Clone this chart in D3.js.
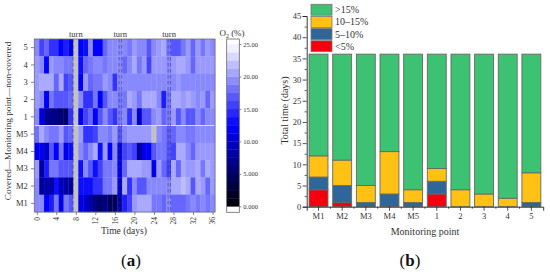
<!DOCTYPE html>
<html>
<head>
<meta charset="utf-8">
<script src="https://cdn.jsdelivr.net/npm/d3@7"></script>
<style>
  html, body { margin: 0; padding: 0; background: #fff; }
  text { font-family: "Liberation Serif", serif; fill: #333; }
</style>
</head>
<body>
<div id="chart"></div>
<script>
// ||================================||
// || DATA                           ||
// ||================================||

// panel (a): O2 per day, null = no reading (grey cell)
var rowNames = ["5", "4", "3", "2", "1", "M5", "M4", "M3", "M2", "M1"]
var row5  = [19.2,15.8,17.5,15,15,12.5,14,11.5,null,12.5,13.3,19.2,12.5,12.5,17.5,19.2,19.2,19.2,19.2,18.3,20,19.2,19.2,16.7,19.2,20,20.8,18.3,16.7,16.7,18.3,20,17.5,20,18.3,20,19.2]
var row4  = [20,19.2,12.5,20,19.2,19.2,18.3,18.3,null,13.3,17.5,18.3,19.2,19.2,18.3,19.2,19.2,19.2,17.5,19.2,20.8,18.3,20,15.8,20,20,20,19.2,20,20.8,20.8,20,17.5,20,20,20,20]
var row3  = [20,20.8,20.8,20.8,17.5,20.8,15.8,16.7,null,12.5,20,17.5,18.3,18.3,20,19.2,15,19.2,19.2,19.2,19.2,19.2,19.2,19.2,19.2,19.2,19.2,19.2,19.2,20,19.2,19.2,19.2,19.2,19.2,19.2,19.2]
var row2  = [20,19.2,12.5,18.3,16.7,16.7,16.7,17.5,null,19.2,15,15,18.3,12.5,16.7,19.2,19.2,18.3,18.3,20.8,20,18.3,20.8,20.8,20.8,19.2,14,18.3,20.8,20.8,20,20.8,20,19.2,20,17.5,20]
var row1  = [19.2,11,7.5,6.7,6.7,5.5,5.2,15,null,11.5,15.8,17.5,12.5,16.7,19.2,16.7,15,18.3,19.2,15,19.2,10,16.7,16.7,19.2,20,17.5,18.3,20,16.7,19.2,16.7,16.7,19.2,17.5,19.2,19.2]
var rowM5 = [18,20.8,19.2,18.3,18.3,20,16.7,17.5,null,20,15,15,15.8,19.2,19.2,18.3,20,16.7,19.2,20,20,20,20,20,null,19.2,18.3,17,17.5,19.2,19.2,18.3,18.3,19.2,19.2,19.2,19.2]
var rowM4 = [12.5,11.5,10,16.7,12.5,18.3,11.5,13.3,null,19.2,17.5,19.2,20.8,13.3,20,12.5,19.2,11,15.8,16.7,15.8,7.7,11.5,12.5,16.7,18.3,18.3,16.7,15.8,20.8,20.8,19.2,17.5,20,20,20,20]
var rowM3 = [20,7.8,14,18.3,18.3,16.7,16.7,16.7,null,13.3,19.2,16.7,13.3,15.8,18.3,18.3,19.2,11.5,17.5,20.8,20.8,20.8,20,20,11.5,20,17.5,15.8,20.8,17.5,20.8,20,20,20.8,18.3,20.8,20]
var rowM2 = [19.2,7.5,8.3,8.3,13.3,9.2,8.3,7.5,null,13.3,13.3,13.3,15,15,18.3,18.3,20,10,20.8,15,19.2,16.7,16.7,19.2,19.2,19.2,19.2,19.2,20.8,20.8,21.7,20.8,16.7,20.8,20,17.5,20]
var rowM1 = [19.2,19.2,12.5,14,18.3,11.5,18.3,16.7,null,11.5,10,8.3,6.3,5,6.7,4.4,4.4,8.3,14,15.8,20,20.8,20.8,20.8,18.3,18.3,17.5,19.2,17.5,17.5,17.5,18.3,19.2,18.3,19.2,18.3,19.2]
var heatRows = [row5, row4, row3, row2, row1, rowM5, rowM4, rowM3, rowM2, rowM1]

var dayTicks = d3.range(0, 37, 4)
var o2Ticks = [0, 5, 10, 15, 20, 25]
var o2TickLabels = ["0.000", "5.000", "10.00", "15.00", "20.00", "25.00"]
var turnDays = [8, 17.1, 27.1]
var dashDays = [7.45, 16.85, 17.4, 26.9, 27.4]

// panel (b): days in each O2 class
var points = ["M1", "M2", "M3", "M4", "M5", "1", "2", "3", "4", "5"]
var under5   = [4, 1, 0, 0, 0, 3, 0, 0, 0, 0]
var from5    = [3, 4, 1, 3, 1, 3, 0, 0, 0, 1]
var from10   = [5, 6, 4, 10, 3, 3, 4, 3, 2, 7]
var over15   = [24, 25, 31, 23, 32, 27, 32, 33, 34, 28]
var classNames = [">15%", "10\u201315%", "5\u201310%", "<5%"]
var classColors = ["#3dc274", "#ffc114", "#2f6699", "#f5000f"]

var svg = d3.select("#chart").append("svg")
    .attr("width", 550)
    .attr("height", 272)
    .style("display", "block")

// the source is a soft raster, cells have no hard edges
svg.append("defs").append("filter")
    .attr("id", "soft")
    .attr("x", 0).attr("y", 0).attr("width", 1).attr("height", 1)
  .append("feGaussianBlur")
    .attr("stdDeviation", 0.5)

// ||================================||
// || PANEL A: HEATMAP               ||
// ||================================||

var heatX = d3.scaleLinear().domain([-0.5, 36.5]).range([34.3, 215])
var heatY = d3.scaleBand().domain(rowNames).range([39, 212])
var o2Color = d3.scaleLinear().domain([0, 12.5, 25]).range(["#000000", "#0000ff", "#ffffff"]).clamp(true)

var a = svg.append("g")
var cells = a.append("g").attr("filter", "url(#soft)")

heatRows.forEach(function(vals, r) {
  cells.append("g").selectAll("rect")
    .data(vals)
    .enter().append("rect")
      .attr("x", function(d, i) { return heatX(i - 0.5) })
      .attr("y", heatY(rowNames[r]))
      .attr("width", heatX(1) - heatX(0) + 0.3)
      .attr("height", heatY.bandwidth() + 0.3)
      .attr("fill", function(d) { return d === null ? "#c2c2c2" : o2Color(d) })
})

// divider between covered and non-covered
a.append("line")
    .attr("x1", heatX.range()[0]).attr("x2", heatX.range()[1])
    .attr("y1", heatY("M5")).attr("y2", heatY("M5"))
    .attr("stroke", "#dcdcff").attr("stroke-width", 1)

a.selectAll(".turn-dash")
    .data(dashDays)
    .enter().append("line")
      .attr("class", "turn-dash")
      .attr("x1", function(d) { return heatX(d) })
      .attr("x2", function(d) { return heatX(d) })
      .attr("y1", 39).attr("y2", 212)
      .attr("stroke", "#33335e").attr("stroke-width", 0.8)
      .attr("stroke-opacity", 0.65)
      .attr("stroke-dasharray", "3.5,2.5")

a.selectAll(".turn")
    .data(turnDays)
    .enter().append("text")
      .attr("class", "turn")
      .attr("x", function(d) { return heatX(d) })
      .attr("y", 37)
      .attr("text-anchor", "middle")
      .attr("font-size", 8.5)
      .text("turn")

a.append("rect")
    .attr("x", 34.3).attr("y", 39).attr("width", 180.7).attr("height", 173)
    .attr("fill", "none").attr("stroke", "#6b6b80").attr("stroke-width", 0.8)

var heatAxisX = a.append("g")
    .attr("transform", "translate(0,212)")
    .call(d3.axisBottom(heatX).tickValues(dayTicks).tickSize(3).tickFormat(d3.format("d")))
heatAxisX.selectAll("text")
    .attr("transform", "rotate(-90)")
    .attr("x", -5).attr("y", 0).attr("dy", "0.32em")
    .attr("text-anchor", "end")
    .attr("font-size", 7.5)

var heatAxisY = a.append("g")
    .attr("transform", "translate(34.3,0)")
    .call(d3.axisLeft(heatY).tickSize(3.5))
heatAxisY.selectAll("text").attr("font-size", 8.5)

a.selectAll(".domain").remove()
a.selectAll(".tick line").attr("stroke", "#666").attr("stroke-width", 0.8)

a.append("text")
    .attr("transform", "translate(11,121) rotate(-90)")
    .attr("text-anchor", "middle")
    .attr("font-size", 9.2)
    .text("Covered\u2014Monitoring point\u2014non-covered")

a.append("text")
    .attr("x", 124).attr("y", 234)
    .attr("text-anchor", "middle")
    .attr("font-size", 9.5)
    .text("Time (days)")

// colour bar
var barY = d3.scaleLinear().domain([0, 25]).range([206.3, 44])
var barSteps = d3.range(0, 25.8, 1.25)

a.selectAll(".bar-step")
    .data(barSteps)
    .enter().append("rect")
      .attr("class", "bar-step")
      .attr("x", 226.7).attr("width", 12.6)
      .attr("y", function(d) { return Math.max(39, barY(d + 1.25)) })
      .attr("height", function(d) { return barY(d) - Math.max(39, barY(d + 1.25)) + 0.3 })
      .attr("fill", function(d) { return o2Color(d + 0.625) })

a.append("rect")
    .attr("x", 226.7).attr("y", 39).attr("width", 12.6).attr("height", 173.3)
    .attr("fill", "none").attr("stroke", "#666").attr("stroke-width", 0.8)

var barAxis = a.append("g")
    .attr("transform", "translate(239.3,0)")
    .call(d3.axisRight(barY).tickValues(o2Ticks).tickSize(2).tickFormat(function(d, i) { return o2TickLabels[i] }))
barAxis.select(".domain").remove()
barAxis.selectAll("text").attr("font-size", 6.5).attr("x", 4)
barAxis.selectAll(".tick line").attr("stroke", "#666").attr("stroke-width", 0.8)

var o2Title = a.append("text")
    .attr("x", 232).attr("y", 36)
    .attr("text-anchor", "middle")
    .attr("font-size", 9)
o2Title.append("tspan").text("O")
o2Title.append("tspan").attr("font-size", 6).attr("dy", 2).text("2")
o2Title.append("tspan").attr("dy", -2).text(" (%)")

// ||================================||
// || PANEL B: STACKED BARS          ||
// ||================================||

var stackX = d3.scaleBand().domain(points).range([306.7, 543.2]).paddingInner(0.2).paddingOuter(0.1)
var stackY = d3.scaleLinear().domain([0, 45]).range([206.7, 16])

var rows = points.map(function(p, i) {
  return { point: p, "<5%": under5[i], "5\u201310%": from5[i], "10\u201315%": from10[i], ">15%": over15[i] }
})
var stackKeys = classNames.slice().reverse()
var series = d3.stack().keys(stackKeys)(rows)
var classColor = d3.scaleOrdinal().domain(classNames).range(classColors)

var b = svg.append("g")

b.selectAll(".layer")
    .data(series)
    .enter().append("g")
      .attr("class", "layer")
      .attr("fill", function(d) { return classColor(d.key) })
    .selectAll("rect")
    .data(function(d) { return d.filter(function(e) { return e[1] > e[0] }) })
    .enter().append("rect")
      .attr("x", function(d) { return stackX(d.data.point) })
      .attr("y", function(d) { return stackY(d[1]) })
      .attr("width", stackX.bandwidth())
      .attr("height", function(d) { return stackY(d[0]) - stackY(d[1]) })
      .attr("stroke", "#666a60")
      .attr("stroke-width", 0.9)

var stackAxisY = b.append("g")
    .attr("transform", "translate(306.7,0)")
    .call(d3.axisLeft(stackY).tickValues(d3.range(0, 46, 5)).tickSize(4))
stackAxisY.selectAll("text").attr("font-size", 8.5).attr("x", -5.5)

var minorY = b.append("g")
    .attr("transform", "translate(306.7,0)")
    .call(d3.axisLeft(stackY).tickValues(d3.range(2.5, 45, 5)).tickSize(2).tickFormat(""))
minorY.select(".domain").remove()

var stackAxisX = b.append("g")
    .attr("transform", "translate(0,206.7)")
    .call(d3.axisBottom(stackX).tickSize(4))
stackAxisX.selectAll("text").attr("font-size", 8.5).attr("y", 6.5)

var minorX = b.append("g")
    .attr("transform", "translate(0,206.7)")
    .selectAll("line")
    .data(points.slice(1))
    .enter().append("line")
      .attr("x1", function(d) { return stackX(d) - stackX.step() * 0.1 })
      .attr("x2", function(d) { return stackX(d) - stackX.step() * 0.1 })
      .attr("y1", 0).attr("y2", 2)
      .attr("stroke", "#222").attr("stroke-width", 0.8)

b.selectAll(".domain").attr("stroke", "#222").attr("stroke-width", 0.9)
b.selectAll(".tick line").attr("stroke", "#222").attr("stroke-width", 0.8)

b.append("text")
    .attr("transform", "translate(288,110.5) rotate(-90)")
    .attr("text-anchor", "middle")
    .attr("font-size", 10)
    .text("Total time (days)")

b.append("text")
    .attr("x", 425).attr("y", 235)
    .attr("text-anchor", "middle")
    .attr("font-size", 10)
    .text("Monitoring point")

var legend = d3.scaleBand().domain(classNames).range([3.7, 52.3])

b.selectAll(".legend-box")
    .data(classNames)
    .enter().append("rect")
      .attr("class", "legend-box")
      .attr("x", 311).attr("width", 21)
      .attr("y", function(d) { return legend(d) + 0.6 })
      .attr("height", legend.bandwidth() - 1.2)
      .attr("fill", function(d) { return classColor(d) })
      .attr("stroke", "#777").attr("stroke-width", 0.8)

b.selectAll(".legend-label")
    .data(classNames)
    .enter().append("text")
      .attr("class", "legend-label")
      .attr("x", 335)
      .attr("y", function(d) { return legend(d) + legend.bandwidth() / 2 + 3.5 })
      .attr("font-size", 10)
      .text(function(d) { return d })

// ||================================||
// || PANEL LETTERS                  ||
// ||================================||

svg.selectAll(".panel")
    .data([{ x: 131, t: "a" }, { x: 410, t: "b" }])
    .enter().append("text")
      .attr("class", "panel")
      .attr("x", function(d) { return d.x })
      .attr("y", 266)
      .attr("text-anchor", "middle")
      .attr("font-size", 17)
      .style("fill", "#111")
      .each(function(d) {
        var t = d3.select(this)
        t.append("tspan").text("(")
        t.append("tspan").attr("font-weight", "bold").text(d.t)
        t.append("tspan").text(")")
      })
</script>
</body>
</html>
